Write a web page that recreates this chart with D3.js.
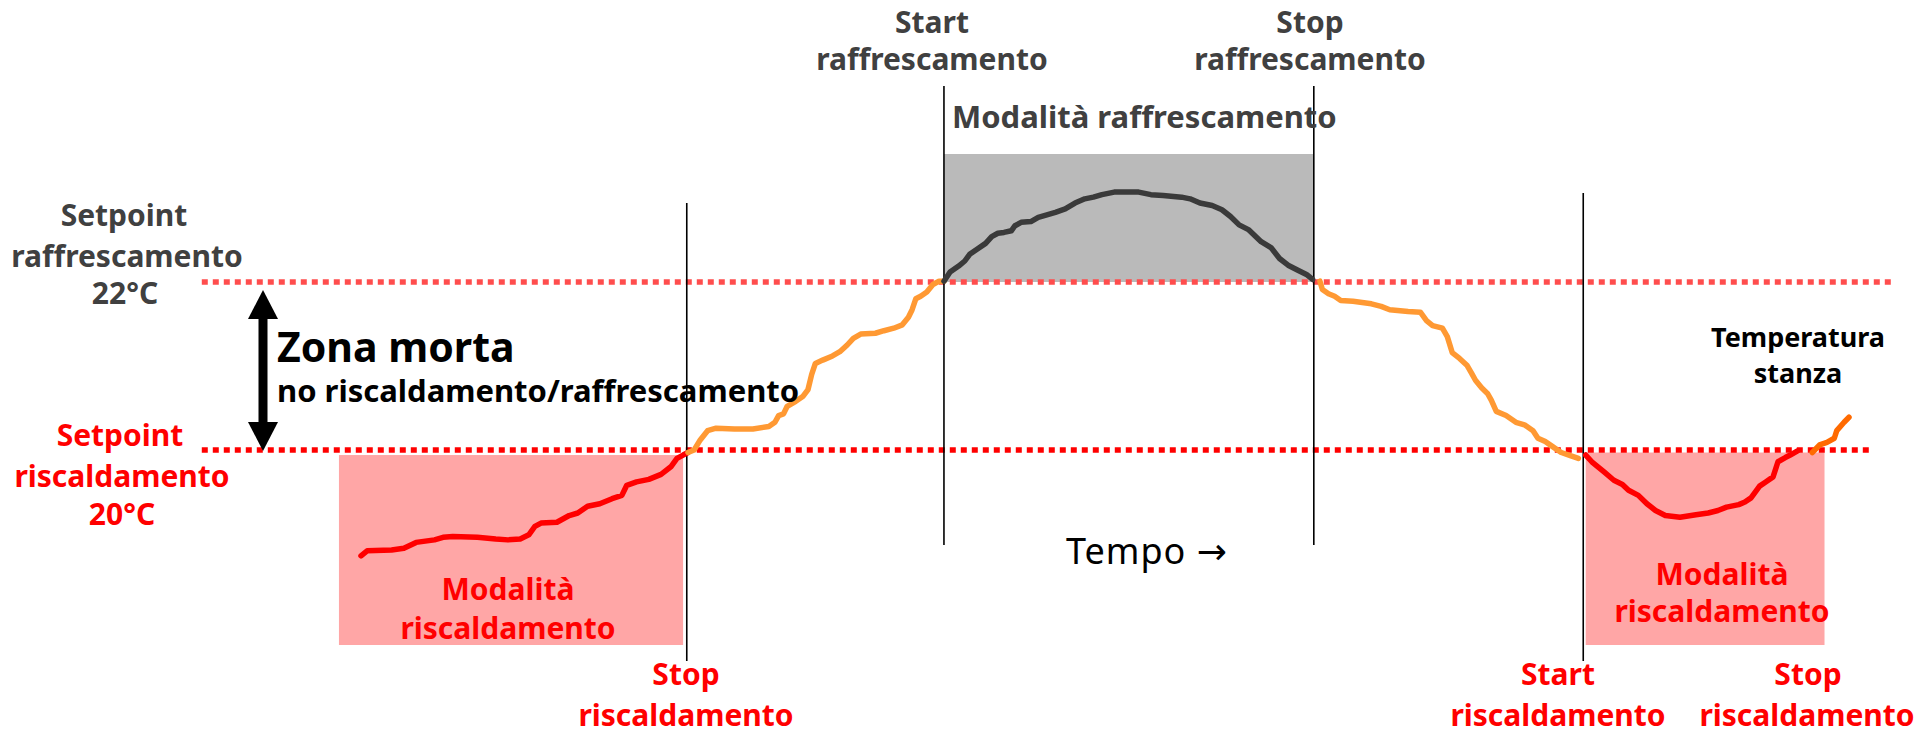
<!DOCTYPE html>
<html>
<head>
<meta charset="utf-8">
<script src="https://cdn.jsdelivr.net/npm/d3@7"></script>
<style>
  body { margin: 0; background: #fff; }
  text { font-family: "Noto Sans", sans-serif; font-weight: 700; }
</style>
</head>
<body>
<div id="chart"></div>
<script>
// setpoints (°C)
var setpointCool = 22, setpointHeat = 20;

// room temperature, split by mode (time in minutes, temperature in °C)
var heat1Time = [0,5,25,35,45,60,67,75,95,110,120,130,137,142,147,160,170,177,185,195,205,213,217,225,235,245,253,258,263,267];
var heat1Temp = [18.74,18.80,18.81,18.83,18.90,18.93,18.96,18.97,18.96,18.94,18.93,18.94,18.99,19.09,19.13,19.14,19.22,19.25,19.33,19.36,19.42,19.46,19.58,19.62,19.65,19.71,19.80,19.90,19.94,19.97];

var idle1Time = [267,272,277,283,290,305,320,333,338,341,345,348,355,361,365,368,371,377,385,391,397,402,408,420,427,435,442,447,450,453,457,462,467,472,476];
var idle1Temp = [19.97,20.00,20.12,20.23,20.26,20.25,20.25,20.28,20.33,20.41,20.43,20.52,20.58,20.64,20.72,20.90,21.03,21.07,21.12,21.17,21.25,21.33,21.38,21.39,21.42,21.45,21.49,21.58,21.67,21.80,21.83,21.88,21.97,22.01,22.01];

var coolTime = [476,481,488,493,497,503,510,515,520,525,531,534,539,547,553,560,567,575,583,591,598,605,615,625,635,645,655,670,677,685,695,703,710,717,725,735,743,750,757,765,772,777];
var coolTemp = [22.01,22.12,22.19,22.25,22.33,22.39,22.46,22.54,22.58,22.59,22.61,22.67,22.71,22.72,22.77,22.80,22.83,22.87,22.94,22.99,23.01,23.04,23.07,23.07,23.07,23.04,23.03,23.01,22.99,22.94,22.91,22.86,22.78,22.68,22.62,22.48,22.41,22.28,22.20,22.14,22.09,22.03];

var idle2Time = [783,785,790,795,800,810,825,833,840,855,865,870,875,883,887,891,897,903,907,910,915,920,923,927,935,943,950,957,961,967,973,980,988,994];
var idle2Temp = [22.01,21.91,21.86,21.83,21.78,21.77,21.74,21.71,21.67,21.65,21.64,21.54,21.48,21.45,21.35,21.16,21.09,21.01,20.91,20.83,20.74,20.67,20.59,20.46,20.41,20.33,20.30,20.23,20.14,20.10,20.04,19.97,19.93,19.90];

var heat2Time = [1000,1005,1010,1015,1023,1030,1035,1043,1050,1057,1065,1077,1090,1100,1108,1115,1125,1130,1135,1142,1147,1153,1157,1163,1167,1173];
var heat2Temp = [19.94,19.86,19.80,19.74,19.64,19.59,19.52,19.46,19.36,19.28,19.22,19.20,19.23,19.25,19.28,19.32,19.35,19.38,19.43,19.57,19.62,19.68,19.86,19.91,19.94,19.99];

var idle3Time = [1185,1191,1197,1203,1205,1211,1215];
var idle3Temp = [19.97,20.06,20.09,20.14,20.23,20.33,20.39];

// switching events (minutes)
var stopHeat1 = 266, startCool = 476, stopCool = 778, startHeat2 = 998;

var width = 1920, height = 735;

var svg = d3.select("#chart")
    .append("svg")
    .attr("width", width)
    .attr("height", height);

var x = d3.scaleLinear().domain([0, 1215]).range([361, 1849]);
var y = d3.scaleLinear().domain([setpointHeat, setpointCool]).range([450, 282]);

var line = d3.line()
    .x(function (d) { return x(d[0]); })
    .y(function (d) { return y(d[1]); })
    .curve(d3.curveLinear);

function zip(t, v) { return t.map(function (d, i) { return [d, v[i]]; }); }

// mode boxes
svg.append("rect")
    .attr("x", x(-18)).attr("y", y(19.94))
    .attr("width", x(263) - x(-18)).attr("height", 645 - y(19.94))
    .attr("fill", "#ffa6a6");
svg.append("rect")
    .attr("x", x(1000)).attr("y", y(19.97))
    .attr("width", x(1195) - x(1000)).attr("height", 645 - y(19.97))
    .attr("fill", "#ffa6a6");
svg.append("rect")
    .attr("x", x(startCool)).attr("y", 154)
    .attr("width", x(stopCool) - x(startCool)).attr("height", y(setpointCool) - 154)
    .attr("fill", "#bababa");

// setpoint lines
svg.append("line")
    .attr("x1", x(-130)).attr("x2", x(1250))
    .attr("y1", y(setpointCool)).attr("y2", y(setpointCool))
    .attr("stroke", "#ff4d4d").attr("stroke-width", 5.5)
    .attr("stroke-dasharray", "6,5");
svg.append("line")
    .attr("x1", x(-130)).attr("x2", x(1235))
    .attr("y1", y(setpointHeat)).attr("y2", y(setpointHeat))
    .attr("stroke", "#ff0000").attr("stroke-width", 5.5)
    .attr("stroke-dasharray", "6,5");

// event lines
var events = [
    { t: stopHeat1, y1: 203, y2: 661 },
    { t: startCool, y1: 86, y2: 545 },
    { t: stopCool, y1: 86, y2: 545 },
    { t: startHeat2, y1: 193, y2: 661 }
];
svg.selectAll(".evt")
    .data(events)
    .enter()
    .append("line")
    .attr("class", "evt")
    .attr("x1", function (d) { return x(d.t); })
    .attr("x2", function (d) { return x(d.t); })
    .attr("y1", function (d) { return d.y1; })
    .attr("y2", function (d) { return d.y2; })
    .attr("stroke", "#000").attr("stroke-width", 1.6);

// temperature curve
var segs = [
    { d: zip(heat1Time, heat1Temp), c: "#ff0000" },
    { d: zip(idle1Time, idle1Temp), c: "#ff9933" },
    { d: zip(coolTime, coolTemp), c: "#3a3a3a" },
    { d: zip(idle2Time, idle2Temp), c: "#ff9933" },
    { d: zip(heat2Time, heat2Temp), c: "#ff0000" },
    { d: zip(idle3Time, idle3Temp), c: "#ff6a00" }
];
svg.selectAll(".seg")
    .data(segs)
    .enter()
    .append("path")
    .attr("class", "seg")
    .attr("d", function (d) { return line(d.d); })
    .attr("fill", "none")
    .attr("stroke", function (d) { return d.c; })
    .attr("stroke-width", 5.5)
    .attr("stroke-linejoin", "round")
    .attr("stroke-linecap", "round");

// dead band arrow
var ax = 263, ay1 = y(setpointCool) + 8, ay2 = y(setpointHeat) + 1, hw = 15, hh = 29;
svg.append("rect")
    .attr("x", ax - 4.5).attr("y", ay1 + hh - 2)
    .attr("width", 9).attr("height", ay2 - ay1 - 2 * hh + 4)
    .attr("fill", "#000");
svg.append("path")
    .attr("d", "M" + ax + "," + ay1 + "L" + (ax + hw) + "," + (ay1 + hh) + "L" + (ax - hw) + "," + (ay1 + hh) + "Z")
    .attr("fill", "#000");
svg.append("path")
    .attr("d", "M" + ax + "," + ay2 + "L" + (ax + hw) + "," + (ay2 - hh) + "L" + (ax - hw) + "," + (ay2 - hh) + "Z")
    .attr("fill", "#000");

// labels
var labels = [
    { t: "Setpoint", x: 124, y: 226, c: "#404040", s: 30 },
    { t: "raffrescamento", x: 127, y: 267, c: "#404040", s: 30 },
    { t: "22°C", x: 125, y: 304, c: "#404040", s: 30 },
    { t: "Setpoint", x: 120, y: 446, c: "#ff0000", s: 30 },
    { t: "riscaldamento", x: 122, y: 487, c: "#ff0000", s: 30 },
    { t: "20°C", x: 122, y: 525, c: "#ff0000", s: 30 },
    { t: "Start", x: 932, y: 33, c: "#404040", s: 30 },
    { t: "raffrescamento", x: 932, y: 70, c: "#404040", s: 30 },
    { t: "Stop", x: 1310, y: 33, c: "#404040", s: 30 },
    { t: "raffrescamento", x: 1310, y: 70, c: "#404040", s: 30 },
    { t: "Modalità", x: 508, y: 600, c: "#ff0000", s: 30 },
    { t: "riscaldamento", x: 508, y: 639, c: "#ff0000", s: 30 },
    { t: "Stop", x: 686, y: 685, c: "#ff0000", s: 30 },
    { t: "riscaldamento", x: 686, y: 726, c: "#ff0000", s: 30 },
    { t: "Modalità", x: 1722, y: 585, c: "#ff0000", s: 30 },
    { t: "riscaldamento", x: 1722, y: 622, c: "#ff0000", s: 30 },
    { t: "Start", x: 1558, y: 685, c: "#ff0000", s: 30 },
    { t: "riscaldamento", x: 1558, y: 726, c: "#ff0000", s: 30 },
    { t: "Stop", x: 1808, y: 685, c: "#ff0000", s: 30 },
    { t: "riscaldamento", x: 1807, y: 726, c: "#ff0000", s: 30 },
    { t: "Temperatura", x: 1798, y: 347, c: "#000", s: 27 },
    { t: "stanza", x: 1798, y: 383, c: "#000", s: 27 }
];
svg.selectAll(".lbl")
    .data(labels)
    .enter()
    .append("text")
    .attr("class", "lbl")
    .attr("x", function (d) { return d.x; })
    .attr("y", function (d) { return d.y; })
    .attr("text-anchor", "middle")
    .attr("fill", function (d) { return d.c; })
    .style("font-size", function (d) { return d.s + "px"; })
    .text(function (d) { return d.t; });

svg.append("text")
    .attr("x", 952).attr("y", 128)
    .attr("fill", "#404040").style("font-size", "31px")
    .text("Modalità raffrescamento");

svg.append("text")
    .attr("x", 277).attr("y", 362)
    .attr("fill", "#000").style("font-size", "41px")
    .text("Zona morta");
svg.append("text")
    .attr("x", 277).attr("y", 402)
    .attr("fill", "#000").style("font-size", "31px")
    .text("no riscaldamento/raffrescamento");

var tempo = svg.append("text")
    .attr("x", 1066).attr("y", 564)
    .attr("fill", "#000").style("font-size", "36px").style("font-weight", 400)
    .style("letter-spacing", "1px");
tempo.append("tspan").text("Tempo ");
tempo.append("tspan").style("font-family", "DejaVu Sans").style("font-size", "36px").text("→");
</script>
</body>
</html>
